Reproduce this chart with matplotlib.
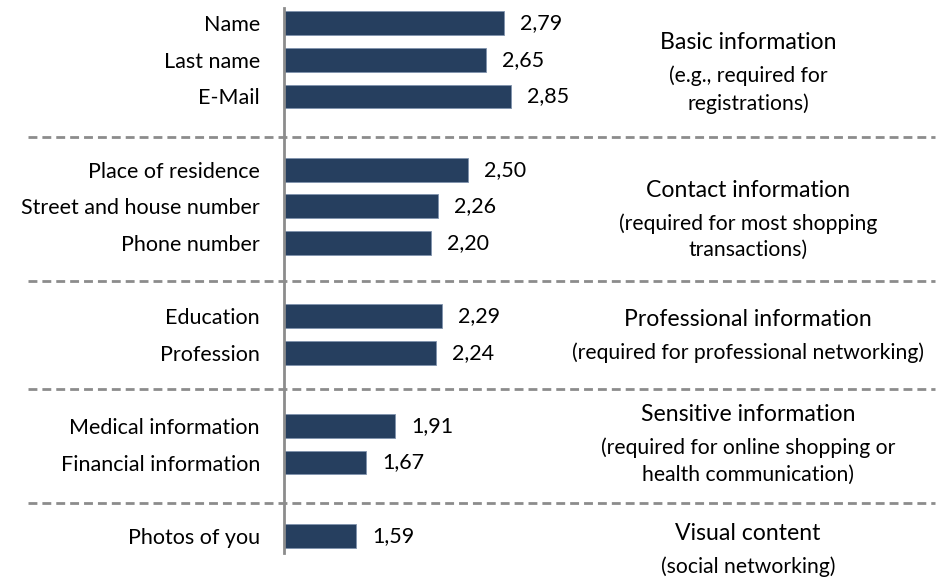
import matplotlib.pyplot as plt
from matplotlib.transforms import blended_transform_factory

plt.rcParams['font.family'] = ['Lato', 'DejaVu Sans']

# items, their scores and their slot on the y axis (empty slots hold the separators)
items = ['Name', 'Last name', 'E-Mail',
         'Place of residence', 'Street and house number', 'Phone number',
         'Education', 'Profession',
         'Medical information', 'Financial information',
         'Photos of you']
scores = [2.79, 2.65, 2.85, 2.50, 2.26, 2.20, 2.29, 2.24, 1.91, 1.67, 1.59]
slots = [0, 1, 2, 4, 5, 6, 8, 9, 11, 12, 14]

separators = [3.1, 7.05, 10.0, 13.1]

group_titles = ['Basic information', 'Contact information', 'Professional information',
                'Sensitive information', 'Visual content']
group_notes = ['(e.g., required for\nregistrations)',
               '(required for most shopping\ntransactions)',
               '(required for professional networking)',
               '(required for online shopping or\nhealth communication)',
               '(social networking)']
group_title_y = [0.54, 4.56, 8.08, 10.7, 13.93]

bar_color = '#263f5f'
grid_gray = '#8c8c8c'

fig = plt.figure(figsize=(9.43, 5.78), dpi=100)
W, H = 943, 578
ax = fig.add_axes([283.5 / W, 1 - 553 / H, (580 - 283.5) / W, (553 - 8) / H])

ax.barh(slots, scores, height=0.65, left=0, color=bar_color,
        edgecolor='#7f93ad', linewidth=0.6, zorder=2)
ax.set_xlim(1.0, 1.0 + (580 - 283.5) / 123)
ax.set_ylim(14.47, -0.415)

for s, v in zip(slots, scores):
    ax.annotate(f'{v:.2f}'.replace('.', ','), (v, s), xytext=(11.5, 0),
                textcoords='offset points', va='center', ha='left',
                fontsize=15.5, color='black')

ax.set_yticks(slots)
ax.set_yticklabels(items, fontsize=15.5)
ax.tick_params(axis='y', length=0, pad=17)
ax.set_xticks([])
for side in ['top', 'right', 'bottom']:
    ax.spines[side].set_visible(False)
ax.spines['left'].set_color(grid_gray)
ax.spines['left'].set_linewidth(2)

# dashed separators across the whole figure width
trans = blended_transform_factory(fig.transFigure, ax.transData)
for y in separators:
    ax.plot([28 / W, 935 / W], [y, y], transform=trans, clip_on=False,
            color=grid_gray, linewidth=2, linestyle=(0, (3.2, 1.8)), zorder=1)

# group descriptions on the right
tx = 748 / W
for title, note, y in zip(group_titles, group_notes, group_title_y):
    ax.text(tx, y, title, transform=trans, ha='center', va='center',
            fontsize=16.6, color='black')
    ax.annotate(note, (tx, y), xycoords=trans, xytext=(0, -16.5),
                textcoords='offset points', ha='center', va='top',
                fontsize=15.2, color='black', linespacing=1.4)

fig.savefig('out.png', dpi=100)
